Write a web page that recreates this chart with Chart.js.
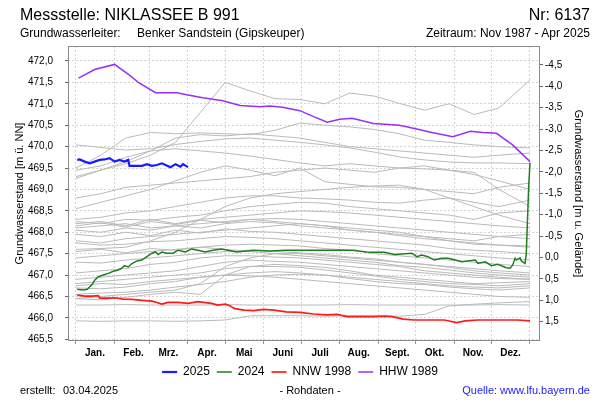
<!DOCTYPE html>
<html><head><meta charset="utf-8">
<script src="https://cdn.jsdelivr.net/npm/chart.js@4.4.1/dist/chart.umd.min.js"></script>
<style>
html,body{margin:0;padding:0;background:#fff;}
#wrap{position:relative;width:600px;height:400px;font-family:'Liberation Sans',Arial,sans-serif;color:#000;overflow:hidden;}
canvas{position:absolute;left:0;top:0;}
.t{position:absolute;white-space:nowrap;line-height:1;}
</style></head><body>
<div id="wrap">
<canvas id="c" width="600" height="400"></canvas>
<div class="t" style="left:20px;top:7px;font-size:16px;">Messstelle: NIKLASSEE B 991</div>
<div class="t" style="right:10px;top:7px;font-size:16px;">Nr: 6137</div>
<div class="t" style="left:20px;top:27px;font-size:12px;">Grundwasserleiter:</div>
<div class="t" style="left:137px;top:27px;font-size:12px;">Benker Sandstein (Gipskeuper)</div>
<div class="t" style="right:10px;top:27px;font-size:12px;">Zeitraum: Nov 1987 - Apr 2025</div>
<div class="t" style="left:20px;top:385px;font-size:11px;">erstellt:</div>
<div class="t" style="left:63px;top:385px;font-size:11px;">03.04.2025</div>
<div class="t" style="left:310px;top:385px;font-size:11px;transform:translateX(-50%);">- Rohdaten -</div>
<div class="t" style="right:10px;top:385px;font-size:11px;color:#1a1aff;">Quelle: www.lfu.bayern.de</div>
</div>
<script>
// ---- axis / tick data ----
const monthStarts = [0,31,59,90,120,151,181,212,243,273,304,334,365];
const monthLabels = ['Jan.','Feb.','Mrz.','Apr.','Mai','Juni','Juli','Aug.','Sept.','Okt.','Nov.','Dez.'];
const leftTicks = [465.5,466.0,466.5,467.0,467.5,468.0,468.5,469.0,469.5,470.0,470.5,471.0,471.5,472.0];
const rightTicks = [-4.5,-4.0,-3.5,-3.0,-2.5,-2.0,-1.5,-1.0,-0.5,0.0,0.5,1.0,1.5];
const groundLevel = 467.41;
const yMin = 465.46, yMax = 472.35;
const xMin = -6.43, xMax = 373.04;

// ---- highlighted series ----
const blueDays = [1,3,7,11,15,19,23,27,31,35,39,42,43,47,53,57,61,65,69,72,76,80,84,86,90];
const blueVals = [469.69,469.70,469.65,469.61,469.65,469.69,469.70,469.73,469.65,469.69,469.65,469.69,469.55,469.55,469.55,469.59,469.55,469.57,469.61,469.57,469.52,469.59,469.53,469.59,469.52];

const greenDays = [1,6,9,13,15,18,22,26,30,34,37,39,42,45,49,53,57,61,64,66,69,73,78,82,88,93,98,104,110,117,122,129,143,156,169,183,196,210,223,236,248,256,270,274,278,283,288,294,299,305,310,315,321,323,329,334,339,346,349,351,353,354,357,358,361,362,364,365];
const greenVals = [466.67,466.65,466.67,466.78,466.88,466.96,467.00,467.04,467.09,467.12,467.17,467.22,467.19,467.27,467.33,467.35,467.43,467.51,467.54,467.48,467.54,467.51,467.51,467.58,467.54,467.61,467.58,467.54,467.58,467.61,467.58,467.54,467.58,467.56,467.58,467.58,467.58,467.58,467.58,467.53,467.53,467.48,467.51,467.43,467.47,467.43,467.35,467.39,467.39,467.35,467.31,467.33,467.35,467.27,467.31,467.22,467.25,467.17,467.16,467.23,467.39,467.35,467.40,467.33,467.27,467.50,469.10,469.62];

const redDays = [1,7,13,18,19,26,31,38,45,53,61,65,69,74,82,90,98,109,114,120,124,127,135,143,151,159,169,180,191,202,210,218,228,239,248,254,263,272,283,296,306,313,323,334,345,355,365];
const redVals = [466.53,466.51,466.51,466.52,466.46,466.46,466.47,466.44,466.43,466.41,466.39,466.36,466.32,466.36,466.36,466.34,466.38,466.34,466.30,466.32,466.28,466.22,466.18,466.17,466.20,466.18,466.14,466.13,466.09,466.07,466.08,466.03,466.03,466.03,466.04,466.03,465.97,465.95,465.95,465.95,465.89,465.93,465.95,465.95,465.95,465.95,465.93];

const violetDays = [2,15,31,43,51,64,81,89,102,118,132,148,156,166,180,191,202,212,222,239,260,274,286,303,317,327,338,351,365];
const violetVals = [471.60,471.80,471.92,471.67,471.48,471.26,471.26,471.21,471.14,471.07,470.96,470.93,470.95,470.92,470.84,470.70,470.57,470.64,470.66,470.54,470.50,470.41,470.33,470.23,470.36,470.33,470.31,470.04,469.65];

// ---- other years (grey) ----
const greyDays = [0,20,40,60,80,100,120,140,160,180,200,220,240,260,280,300,320,340,365];
const grey01 = [469.30,469.45,469.60,469.80,470.10,470.80,471.50,471.30,471.12,471.10,471.00,471.25,471.18,471.01,470.85,471.00,470.75,470.90,471.56];
const grey02 = [469.50,469.80,470.20,470.33,470.30,470.32,470.30,470.28,470.38,470.55,470.50,470.46,470.40,470.30,470.15,470.10,470.04,470.00,469.97];
const grey03 = [470.04,469.98,469.92,469.95,470.05,470.12,470.18,470.20,470.15,470.10,470.04,469.97,469.87,469.76,469.69,469.64,469.62,469.62,469.60];
const grey04 = [469.45,469.55,469.75,469.90,469.95,469.90,469.85,469.78,469.70,469.62,469.55,469.60,469.55,469.50,469.48,469.45,469.40,469.00,468.60];
const grey05 = [468.80,468.90,469.05,469.10,469.15,469.20,469.25,469.30,469.40,469.45,469.50,469.45,469.40,469.50,469.55,469.45,469.35,469.20,469.00];
const grey06 = [469.26,469.45,469.65,469.90,470.20,470.28,470.25,470.30,470.25,470.20,470.10,470.00,469.95,469.90,469.85,469.80,469.75,469.80,469.85];
const grey07 = [468.55,468.70,468.85,469.00,469.20,469.40,469.55,469.45,469.32,469.50,469.18,469.12,469.06,469.05,469.00,468.95,468.90,469.05,469.15];
const grey08 = [468.30,468.35,468.45,468.50,468.60,468.70,468.80,468.85,468.85,468.80,468.78,468.75,468.70,468.68,468.75,468.80,468.70,468.60,468.75];
const grey09 = [468.25,468.20,468.30,468.28,468.35,468.40,468.50,468.60,468.65,468.70,468.68,468.60,468.55,468.50,468.45,468.40,468.30,468.45,468.50];
const grey10 = [468.20,468.25,468.15,468.30,468.20,468.30,468.35,468.40,468.45,468.50,468.48,468.45,468.40,468.35,468.30,468.25,468.20,468.15,468.10];
const grey11 = [468.10,468.15,468.20,468.10,468.15,468.20,468.25,468.30,468.32,468.30,468.25,468.20,468.15,468.10,468.05,468.00,467.95,467.90,467.85];
const grey12 = [468.05,468.00,468.10,468.05,468.15,468.10,468.20,468.25,468.22,468.15,468.10,468.05,468.00,467.95,467.90,467.85,467.80,467.90,467.95];
const grey13 = [467.60,467.62,467.65,467.80,468.00,468.30,468.60,468.80,468.90,468.95,469.00,469.05,469.08,469.10,469.00,468.80,468.60,468.40,468.20];
const grey14 = [467.80,467.75,467.85,467.90,467.95,468.00,468.05,468.10,468.15,468.20,468.15,468.10,468.05,468.00,467.90,467.80,467.75,467.70,467.65];
const grey15 = [467.75,467.70,467.72,467.78,467.80,467.85,467.90,467.88,467.85,467.80,467.75,467.70,467.65,467.60,467.55,467.50,467.45,467.40,467.35];
const grey16 = [467.40,467.45,467.50,467.55,467.60,467.65,467.70,467.72,467.70,467.68,467.62,467.58,467.50,467.45,467.40,467.35,467.30,467.25,467.20];
const grey17 = [467.30,467.28,467.35,467.40,467.45,467.50,467.55,467.58,467.55,467.52,467.48,467.42,467.38,467.30,467.25,467.18,467.10,467.05,467.00];
const grey18 = [467.05,467.10,467.15,467.25,467.30,467.40,467.45,467.45,467.42,467.40,467.35,467.30,467.25,467.20,467.10,467.05,467.00,466.95,466.90];
const grey19 = [466.90,466.95,467.00,467.05,467.10,467.20,467.30,467.35,467.32,467.30,467.25,467.20,467.15,467.10,467.05,467.00,466.95,466.92,466.90];
const grey20 = [466.80,466.85,466.90,466.95,467.00,467.05,467.15,467.20,467.20,467.18,467.12,467.05,466.98,466.90,466.85,466.80,466.78,466.75,466.80];
const grey21 = [466.70,466.68,466.72,466.80,466.85,466.95,467.00,467.05,467.08,467.05,467.00,466.92,466.85,466.80,466.78,466.72,466.68,466.65,466.70];
const grey22 = [466.45,466.50,466.55,466.60,466.65,466.80,467.20,467.40,467.50,467.50,467.45,467.40,467.35,467.30,467.25,467.20,467.15,467.10,467.05];
const grey23 = [466.55,466.58,466.60,466.65,466.72,466.78,466.85,466.95,467.00,467.02,467.00,466.95,466.90,466.85,466.80,466.75,466.72,466.70,466.75];
const grey24 = [466.45,466.42,466.48,466.55,466.60,466.55,467.00,467.20,467.25,467.22,467.18,467.10,467.00,466.95,466.90,466.85,466.80,466.82,466.85];
const grey25 = [466.30,466.30,466.31,466.30,466.30,466.30,466.31,466.30,466.30,466.30,466.30,466.31,466.30,466.30,466.30,466.30,466.30,466.31,466.30];
const grey26 = [465.93,465.92,465.93,465.93,465.92,465.93,465.95,466.05,466.05,466.05,466.04,466.05,466.05,466.04,466.08,466.28,466.32,466.35,466.38];
const grey27 = [468.15,468.22,468.12,468.25,468.18,468.28,468.22,468.30,468.25,468.20,468.15,468.05,468.00,467.92,467.85,467.80,467.72,467.70,467.68];
const grey28 = [467.95,467.90,468.00,467.92,468.05,467.98,468.08,468.02,468.00,467.95,467.90,467.85,467.80,467.75,467.70,467.62,467.58,467.55,467.50];
const grey29 = [467.55,467.60,467.52,467.62,467.58,467.65,467.60,467.55,467.50,467.45,467.40,467.35,467.30,467.22,467.18,467.12,467.05,467.00,466.95];
const grey30 = [466.75,466.80,466.78,466.85,466.90,466.95,467.00,466.98,466.95,466.90,466.85,466.80,466.75,466.70,466.65,466.60,466.55,466.50,466.48];
const greySeries = [grey01,grey02,grey03,grey04,grey05,grey06,grey07,grey08,grey09,grey10,grey11,grey12,grey13,grey14,grey15,grey16,grey17,grey18,grey19,grey20,grey21,grey22,grey23,grey24,grey25,grey26,grey27,grey28,grey29,grey30];

// ---- build ----
const fmt = v => Number(v).toFixed(1).replace('.', ',');
const toPts = (d, v) => d.map((x, i) => ({x: x, y: v[i]}));
const lineDs = (label, d, v, color, w) => ({label, data: toPts(d, v), borderColor: color, backgroundColor: color,
  borderWidth: w, pointRadius: 0, pointHoverRadius: 0, tension: 0, fill: false, xAxisID: 'x', yAxisID: 'y'});

const datasets = [
  lineDs('2025', blueDays, blueVals, '#1a1aff', 2.2),
  lineDs('2024', greenDays, greenVals, '#1e7e1e', 1.5),
  lineDs('NNW 1998', redDays, redVals, '#ff1a1a', 1.7),
  lineDs('HHW 1989', violetDays, violetVals, '#9a2ef5', 1.5)
].concat(greySeries.map(v => lineDs('', greyDays, v, '#bababa', 1)));

const GRID = '#d4d4d4';
const frame = {
  id: 'frame',
  afterDatasetsDraw(c) {
    const {ctx, chartArea: a} = c;
    ctx.save();
    ctx.strokeStyle = '#8a8a8a';
    ctx.lineWidth = 1;
    ctx.strokeRect(Math.round(a.left) + 0.5, Math.round(a.top) + 0.5, Math.round(a.right - a.left) - 1, Math.round(a.bottom - a.top) - 1);
    ctx.restore();
  }
};

Chart.defaults.font.family = "'Liberation Sans', Arial, sans-serif";
Chart.defaults.color = '#000';

new Chart(document.getElementById('c'), {
  type: 'line',
  data: {datasets},
  options: {
    responsive: false, animation: false, devicePixelRatio: 1,
    layout: {padding: {top: 46, bottom: 12, left: 0, right: 0}},
    plugins: {
      legend: {
        position: 'bottom',
        labels: {usePointStyle: true, pointStyle: 'line', pointStyleWidth: 15, padding: 7,
          color: '#000', font: {size: 12}, filter: it => it.datasetIndex < 4}
      },
      tooltip: {enabled: false}
    },
    scales: {
      x: {
        type: 'linear', position: 'bottom', min: xMin, max: xMax,
        afterBuildTicks: s => { s.ticks = monthStarts.map(v => ({value: v})); },
        afterFit: s => { s.height = 18; },
        ticks: {autoSkip: false, maxRotation: 0, minRotation: 0, labelOffset: 19, padding: 3,
          color: '#000', font: {size: 10, weight: 'bold'},
          callback: (v, i) => (i < monthLabels.length ? monthLabels[i] : '')},
        grid: {color: GRID, lineWidth: 1, tickLength: 3, tickColor: '#9a9a9a'},
        border: {display: false, dash: [2, 2]}
      },
      y: {
        type: 'linear', position: 'left', min: yMin, max: yMax,
        afterBuildTicks: s => { s.ticks = leftTicks.map(v => ({value: v})); },
        afterFit: s => { s.width = 68; },
        ticks: {padding: 12, color: '#000', font: {size: 10}, callback: v => fmt(v)},
        grid: {color: GRID, lineWidth: 1, tickLength: 3, tickColor: '#666'},
        border: {display: false, dash: [2, 2]},
        title: {display: true, text: 'Grundwasserstand [m ü. NN]', color: '#000', font: {size: 11}, padding: {top: 13, bottom: 0}}
      },
      y2: {
        type: 'linear', position: 'right', reverse: true,
        min: groundLevel - yMax, max: groundLevel - yMin,
        afterBuildTicks: s => { s.ticks = rightTicks.map(v => ({value: v})); },
        afterFit: s => { s.width = 60; },
        ticks: {padding: 2, color: '#000', font: {size: 10}, callback: v => fmt(v)},
        grid: {drawOnChartArea: false, tickLength: 3, tickColor: '#666'},
        border: {display: false},
        title: {display: true, text: 'Grundwasserstand [m u. Gelände]', color: '#000', font: {size: 11}, padding: {top: 15, bottom: 0}}
      }
    }
  },
  plugins: [frame]
});
</script>
</body></html>
